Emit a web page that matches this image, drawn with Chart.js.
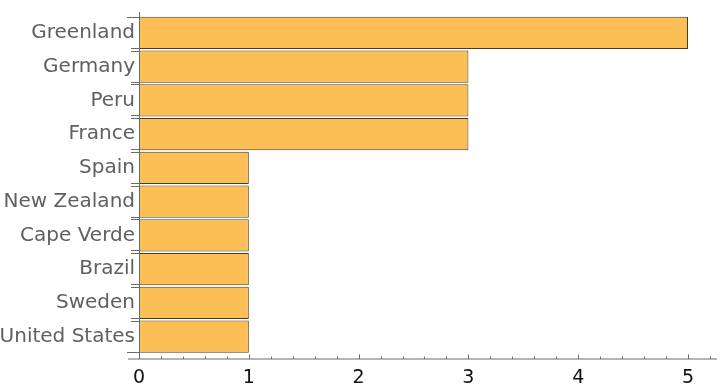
<!DOCTYPE html>
<html><head><meta charset="utf-8">
<script src="https://cdn.jsdelivr.net/npm/chart.js@4"></script>
<style>html,body{margin:0;padding:0;background:#fff}#wrap{width:720px;height:390px}</style>
</head><body><div id="wrap"><canvas id="c"></canvas></div>
<script>
const categories = ["Greenland","Germany","Peru","France","Spain","New Zealand","Cape Verde","Brazil","Sweden","United States"];
const values = [5,3,3,3,1,1,1,1,1,1];
const xTickValues = [0,1,2,3,4,5];

const axisPlugin = {
  id: 'mmaAxes',
  afterDatasetsDraw(chart) {
    const ctx = chart.ctx, xs = chart.scales.x, ca = chart.chartArea;
    const x0 = xs.getPixelForValue(0);
    const yAxis = ca.bottom + 5.5;
    ctx.save();
    ctx.strokeStyle = '#6b6b6b';
    ctx.lineWidth = 1;
    ctx.beginPath(); ctx.moveTo(x0 - 11, yAxis); ctx.lineTo(ca.right, yAxis); ctx.stroke();
    ctx.beginPath(); ctx.moveTo(x0 + 0.5, ca.top - 4); ctx.lineTo(x0 + 0.5, yAxis); ctx.stroke();
    for (let i = 0; i <= 26; i++) {
      const v = i / 5;
      const px = Math.round(xs.getPixelForValue(v)) + 0.5;
      if (px > ca.right) break;
      const len = (i % 5 === 0) ? 4.5 : 2.5;
      ctx.beginPath(); ctx.moveTo(px, yAxis); ctx.lineTo(px, yAxis - len); ctx.stroke();
    }
    const meta = chart.getDatasetMeta(0);
    const n = meta.data.length;
    meta.data.forEach((bar, i) => {
      const p = bar.getProps(['y','height'], true);
      const top = Math.round(p.y - p.height / 2) + 0.5;
      const bot = Math.round(p.y + p.height / 2) - 0.5;
      const lt = (i === 0) ? 12 : 8;
      const lb = (i === n - 1) ? 12 : 8;
      ctx.beginPath(); ctx.moveTo(x0 - lt, top); ctx.lineTo(x0, top); ctx.stroke();
      ctx.beginPath(); ctx.moveTo(x0 - lb, bot); ctx.lineTo(x0, bot); ctx.stroke();
    });
    ctx.restore();
  }
};

new Chart(document.getElementById('c'), {
  type: 'bar',
  data: {
    labels: categories,
    datasets: [{
      data: values,
      backgroundColor: '#FBBF55',
      borderColor: '#4a3b22',
      borderWidth: 1,
      borderSkipped: false,
      barPercentage: 0.95,
      categoryPercentage: 1.0
    }]
  },
  options: {
    indexAxis: 'y',
    responsive: true,
    maintainAspectRatio: false,
    animation: false,
    layout: { padding: { top: 14, right: 3, left: 0, bottom: 0 } },
    plugins: { legend: { display: false }, tooltip: { enabled: false } },
    scales: {
      x: {
        type: 'linear',
        min: 0, max: 5.264,
        afterBuildTicks(scale) { scale.ticks = xTickValues.map(v => ({ value: v })); },
        afterFit(scale) { scale.height = 36.5; },
        grid: { display: false, drawTicks: false },
        border: { display: false },
        ticks: { color: '#111', padding: 13, font: { family: 'DejaVu Sans', size: 19 }, maxRotation: 0 }
      },
      y: {
        afterFit(scale) { scale.width = 139; },
        grid: { display: false, drawTicks: false },
        border: { display: false },
        ticks: { color: '#606060', padding: 4, font: { family: 'DejaVu Sans', size: 20 } }
      }
    }
  },
  plugins: [axisPlugin]
});
</script>
</body></html>
